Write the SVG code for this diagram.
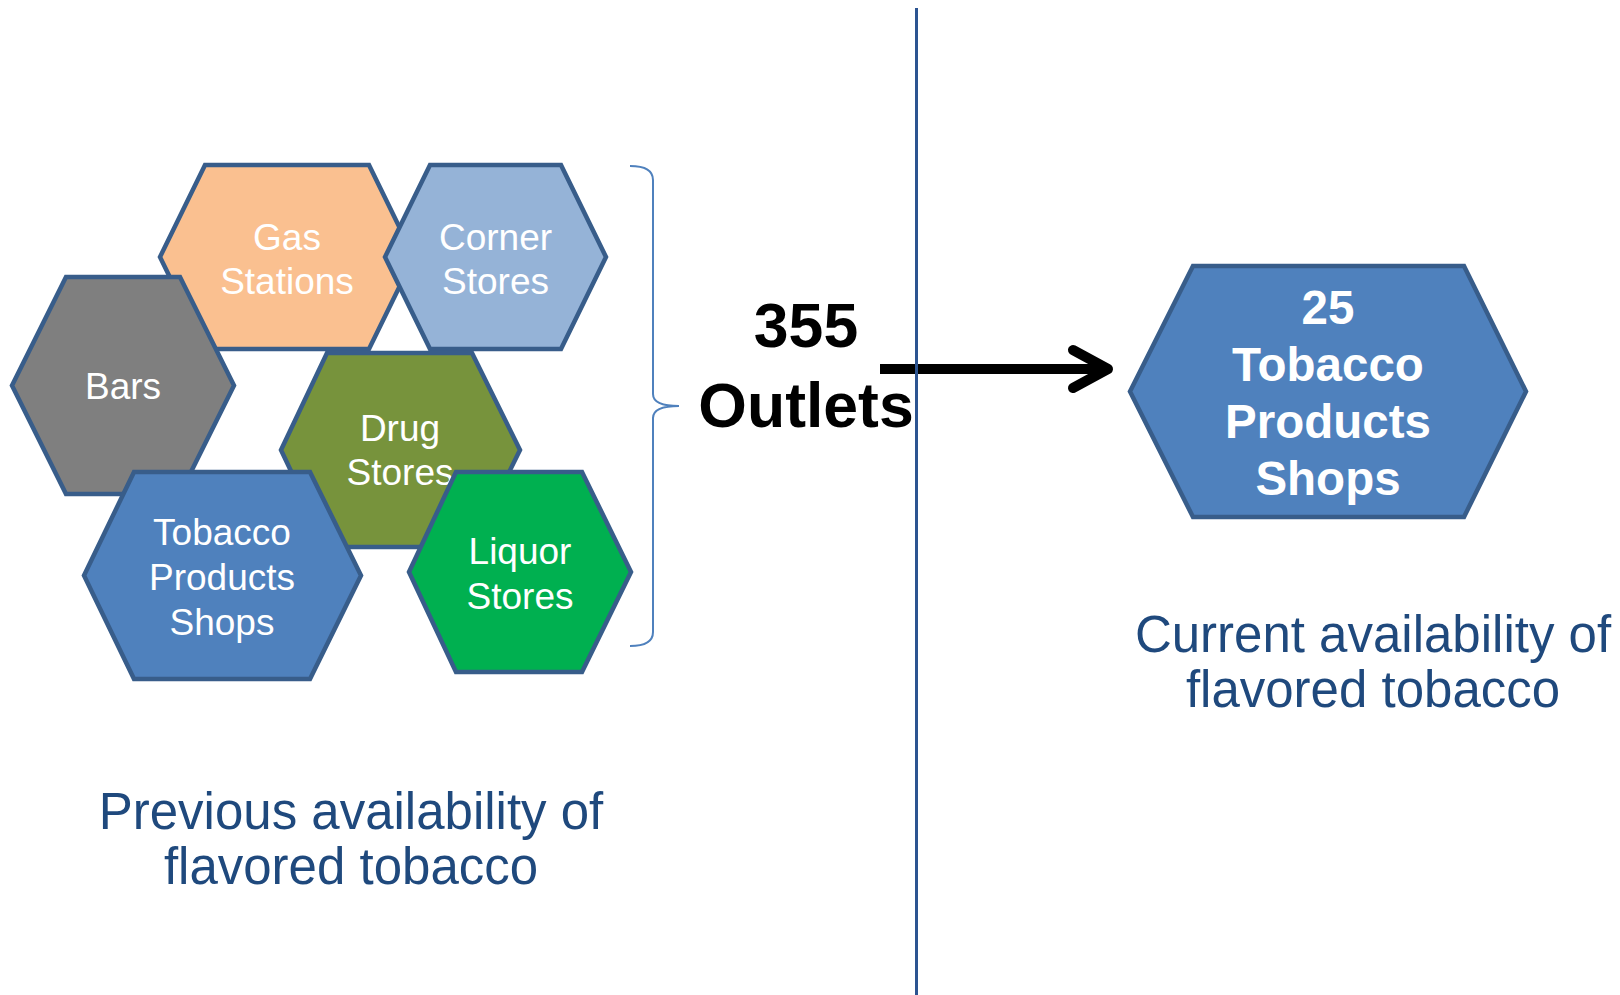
<svg xmlns="http://www.w3.org/2000/svg" width="1620" height="995" viewBox="0 0 1620 995">
  <style>
    .hex { stroke: #385D8A; stroke-width: 4.5; stroke-linejoin: miter; }
    .lbl { font-family: "Liberation Sans", Arial, sans-serif; font-size: 37px; fill: #FFFFFF; text-anchor: middle; }
    .big { font-family: "Liberation Sans", Arial, sans-serif; font-size: 47.5px; font-weight: bold; fill: #FFFFFF; text-anchor: middle; }
    .count { font-family: "Liberation Sans", Arial, sans-serif; font-size: 62.5px; font-weight: bold; fill: #000000; text-anchor: middle; }
    .caption { font-family: "Liberation Sans", Arial, sans-serif; font-size: 51px; fill: #1F497D; text-anchor: middle; }
  </style>
  <rect width="1620" height="995" fill="#FFFFFF"/>

  <!-- outlet types before the restriction -->
  <g id="gas-stations">
    <polygon class="hex" fill="#FAC090" points="160,257 205,165 369,165 414,257 369,349 205,349"/>
    <text class="lbl" x="287" y="250">Gas</text>
    <text class="lbl" x="287" y="294">Stations</text>
  </g>
  <g id="corner-stores">
    <polygon class="hex" fill="#95B3D7" points="385,257 430,165 561,165 606,257 561,349 430,349"/>
    <text class="lbl" x="495.5" y="250">Corner</text>
    <text class="lbl" x="495.5" y="294">Stores</text>
  </g>
  <g id="bars">
    <polygon class="hex" fill="#7F7F7F" points="12,385.5 66,277 180,277 234,385.5 180,494 66,494"/>
    <text class="lbl" x="123" y="399">Bars</text>
  </g>
  <g id="drug-stores">
    <polygon class="hex" fill="#77933C" points="281,450 327,353 472,353 520,450 472,547 327,547"/>
    <text class="lbl" x="400" y="441">Drug</text>
    <text class="lbl" x="400" y="485">Stores</text>
  </g>
  <g id="tobacco-shops">
    <polygon class="hex" fill="#4F81BD" points="84,575.5 134,472 310,472 361,575.5 310,679 134,679"/>
    <text class="lbl" x="222" y="545">Tobacco</text>
    <text class="lbl" x="222" y="590">Products</text>
    <text class="lbl" x="222" y="635">Shops</text>
  </g>
  <g id="liquor-stores">
    <polygon class="hex" fill="#00B050" points="409,572 456,472 582,472 631,572 582,672 456,672"/>
    <text class="lbl" x="520" y="564">Liquor</text>
    <text class="lbl" x="520" y="609">Stores</text>
  </g>

  <!-- brace grouping all outlet types -->
  <g id="brace">
    <path d="M630,166 Q653,166 653,180 L653,394 Q653,406 679,406 Q653,406 653,418 L653,632 Q653,646 630,646" fill="none" stroke="#4F81BD" stroke-width="2"/>
  </g>

  <g id="outlet-count">
    <text class="count" x="806" y="347">355</text>
    <text class="count" x="806" y="427">Outlets</text>
  </g>

  <!-- connectors -->
  <g id="connectors">
    <line x1="880" y1="369" x2="1104" y2="369" stroke="#000000" stroke-width="10"/>
    <path d="M1073,350 L1108,369 L1073,388" fill="none" stroke="#000000" stroke-width="10" stroke-linecap="round" stroke-linejoin="round"/>
  </g>

  <!-- divider between before and after -->
  <g id="divider">
    <line x1="916.5" y1="8" x2="916.5" y2="995" stroke="#2C5491" stroke-width="3"/>
  </g>

  <!-- remaining outlets -->
  <g id="tobacco-shops-current">
    <polygon class="hex" fill="#4F81BD" points="1130,391.5 1193,266 1464,266 1526,391.5 1464,517 1193,517"/>
    <text class="big" x="1328" y="324">25</text>
    <text class="big" x="1328" y="381">Tobacco</text>
    <text class="big" x="1328" y="438">Products</text>
    <text class="big" x="1328" y="495">Shops</text>
  </g>

  <g id="caption-previous">
    <text class="caption" x="351" y="829">Previous availability of</text>
    <text class="caption" x="351" y="884">flavored tobacco</text>
  </g>
  <g id="caption-current">
    <text class="caption" x="1373" y="652">Current availability of</text>
    <text class="caption" x="1373" y="707">flavored tobacco</text>
  </g>
</svg>
